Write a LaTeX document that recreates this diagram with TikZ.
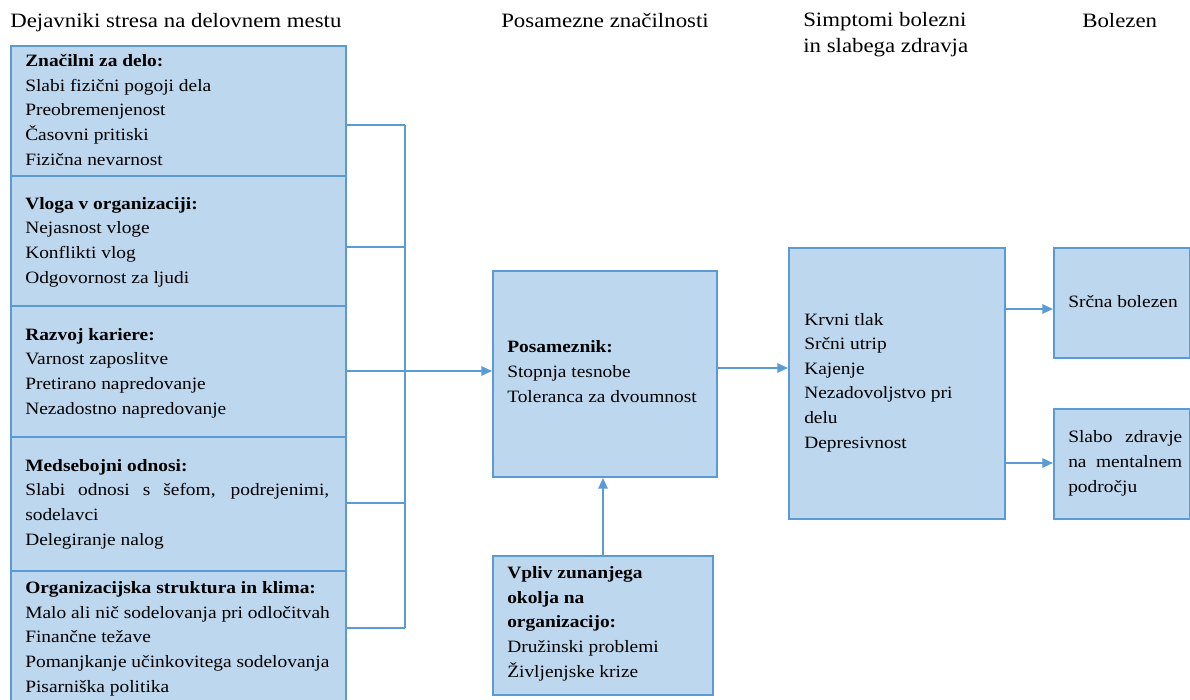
\documentclass[tikz,border=0pt]{standalone}
\usepackage{fontspec}
\setmainfont{Liberation Serif}[FakeStretch=1.12]
\usetikzlibrary{arrows.meta}
\definecolor{boxfill}{HTML}{BDD7EE}
\definecolor{boxline}{HTML}{5B9BD5}
\begin{document}
\begin{tikzpicture}[x=0.75pt,y=-0.75pt,
  box/.style={draw=boxline, fill=boxfill, line width=1.5pt, anchor=north west, inner sep=0pt},
  txt/.style={anchor=base west, inner sep=0pt, align=left, font=\fontsize{13}{18.4}\selectfont},
  hdr/.style={anchor=base west, inner sep=0pt, align=left, font=\fontsize{15.3}{18.8}\selectfont},
  conn/.style={draw=boxline, line width=1.5pt},
  arr/.style={conn, -{Triangle[length=8pt,width=7pt]}}]
\useasboundingbox (0,0) rectangle (1190,700);
\begin{scope}
\clip (0,0) rectangle (1190,700);
% headers
\node[hdr] (h1) at (10,27) {Dejavniki stresa na delovnem mestu};
\node[hdr] (h2) at (501,27) {Posamezne značilnosti};
\node[hdr] (h3) at (803,52) {Simptomi bolezni\\in slabega zdravja};
\node[hdr] (h4) at (1082,27) {Bolezen};
% left boxes
\node[box, minimum width=251.25pt, minimum height=97.5pt] (b1) at (10,45) {};
\node[box, minimum width=251.25pt, minimum height=97.5pt] (b2) at (10,175) {};
\node[box, minimum width=251.25pt, minimum height=98.25pt] (b3) at (10,305) {};
\node[box, minimum width=251.25pt, minimum height=100.5pt] (b4) at (10,436) {};
\node[box, minimum width=251.25pt, minimum height=105pt] (b5) at (10,570) {};
\node[txt] (t1) at (25,165) {\textbf{Značilni za delo:}\\Slabi fizični pogoji dela\\Preobremenjenost\\Časovni pritiski\\Fizična nevarnost};
\node[txt] (t2) at (25,283) {\textbf{Vloga v organizaciji:}\\Nejasnost vloge\\Konflikti vlog\\Odgovornost za ljudi};
\node[txt] (t3) at (25,414) {\textbf{Razvoj kariere:}\\Varnost zaposlitve\\Pretirano napredovanje\\Nezadostno napredovanje};
\node[txt] (t4) at (25,545) {\textbf{Medsebojni odnosi:}\\\makebox[228pt][s]{Slabi odnosi s šefom, podrejenimi,}\\sodelavci\\Delegiranje nalog};
\node[txt] (t5) at (25,692) {\textbf{Organizacijska struktura in klima:}\\Malo ali nič sodelovanja pri odločitvah\\Finančne težave\\Pomanjkanje učinkovitega sodelovanja\\Pisarniška politika};
% middle boxes
\node[box, minimum width=168pt, minimum height=154.5pt] (pb) at (492,270) {};
\node[txt] (tp) at (507,402) {\textbf{Posameznik:}\\Stopnja tesnobe\\Toleranca za dvoumnost};
\node[box, minimum width=165pt, minimum height=104.25pt] (vb) at (492,555) {};
\node[txt] (tv) at (507,677) {\textbf{Vpliv zunanjega}\\\textbf{okolja na}\\\textbf{organizacijo:}\\Družinski problemi\\Življenjske krize};
% symptoms
\node[box, minimum width=162pt, minimum height=203.25pt] (sb) at (788,247) {};
\node[txt] (ts) at (804,448) {Krvni tlak\\Srčni utrip\\Kajenje\\Nezadovoljstvo pri\\delu\\Depresivnost};
% diseases
\node[box, minimum width=102pt, minimum height=82.5pt] (hb) at (1053,247) {};
\node[txt] (th) at (1068,307) {Srčna bolezen};
\node[box, minimum width=102pt, minimum height=82.5pt] (mb) at (1053,408) {};
\node[txt] (tm) at (1068,492) {\makebox[85.5pt][s]{Slabo zdravje}\\\makebox[85.5pt][s]{na mentalnem}\\področju};
\end{scope}
% bracket
\coordinate (j1) at (405,125);
\coordinate (j2) at (405,247);
\coordinate (j3) at (405,371);
\coordinate (j4) at (405,503);
\coordinate (j5) at (405,628);
\draw[conn] (b1.east |- j1) -- (j1);
\draw[conn] (b2.east |- j2) -- (j2);
\draw[conn] (b3.east |- j3) -- (j3);
\draw[conn] (b4.east |- j4) -- (j4);
\draw[conn] (b5.east |- j5) -- (j5);
\draw[conn] (j1) -- (j5);
\draw[arr] (j3) -- (pb.west |- j3);
% arrows
\coordinate (a0) at (0,368);
\coordinate (a1) at (0,309);
\coordinate (a2) at (0,463);
\draw[arr] (pb.east |- a0) -- (sb.west |- a0);
\draw[arr] (vb.north) -- (vb.north |- pb.south);
\draw[arr] (sb.east |- a1) -- (hb.west |- a1);
\draw[arr] (sb.east |- a2) -- (mb.west |- a2);
\end{tikzpicture}
\end{document}
